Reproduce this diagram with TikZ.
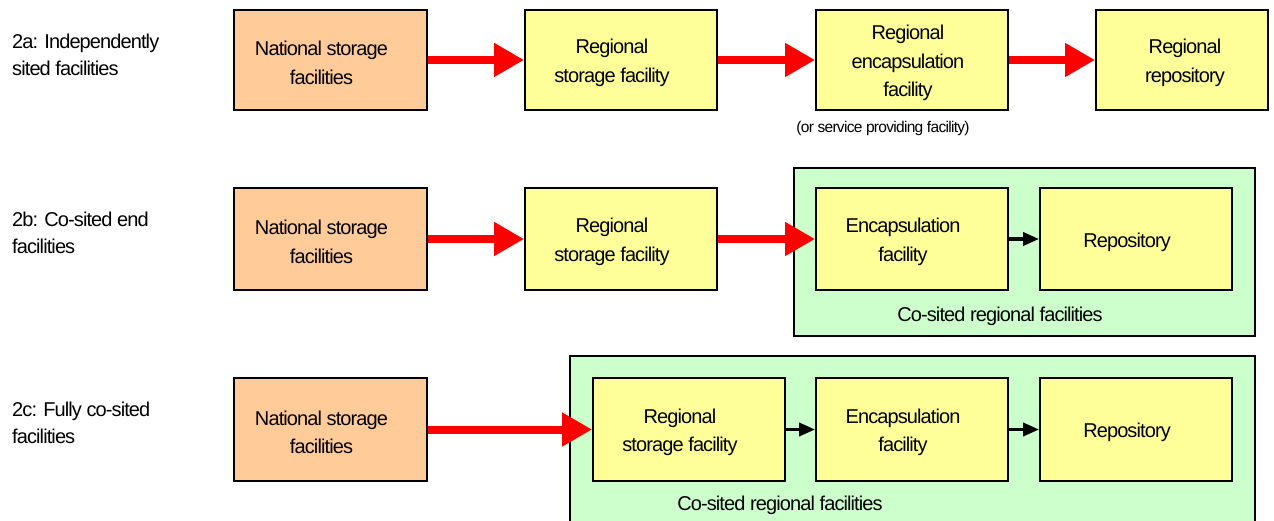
\documentclass[tikz,border=0pt]{standalone}
\usepackage{fontspec}
\setmainfont{Liberation Sans}[LetterSpace=-4.5]
\usetikzlibrary{arrows.meta}
\definecolor{orangefill}{HTML}{FFCC99}
\definecolor{yellowfill}{HTML}{FFFF99}
\definecolor{greenfill}{HTML}{CCFFCC}
\tikzset{
  box/.style={draw=black, line width=1.8pt, inner sep=0pt},
  natbox/.style={box, fill=orangefill, minimum width=193pt},
  ybox/.style={box, fill=yellowfill, minimum width=192pt},
  txt/.style={align=center, inner sep=0pt, font=\fontsize{20}{28.5}\selectfont},
  gbox/.style={draw=black, line width=1.5pt, fill=greenfill, inner sep=0pt},
  glabel/.style={inner sep=0pt, anchor=base, font=\fontsize{20}{28.5}\selectfont},
  redarrow/.style={draw=red, line width=8pt, -{Triangle[length=30pt,width=32pt]}},
  blackarrow/.style={draw=black, line width=3.5pt, -{Triangle[length=16pt,width=13pt]}},
  rowlabel/.style={anchor=west, align=left, inner sep=0pt, font=\fontsize{20}{27}\selectfont},
  note/.style={inner sep=0pt, font=\fontsize{15.5}{18}\selectfont},
}
\newcommand{\boxtext}[3][-9]{\node[txt] (#2t) at ([shift={(#1,3)}]#2.center) {#3};}
\begin{document}
\begin{tikzpicture}[x=1pt,y=-1pt]
\useasboundingbox (0,0) rectangle (1274,521);
% Row 2a
\node[rowlabel] (la) at (12,55) {2a: Independently\\sited facilities};
\node[natbox, minimum height=100pt] (na) at (330.5,60) {};
\boxtext{na}{National storage\\facilities}
\node[ybox, minimum height=100pt] (rsa) at (621,60) {};
\boxtext{rsa}{Regional\\storage facility}
\node[ybox, minimum height=100pt] (rea) at (912,60) {};
\boxtext[-4]{rea}{Regional\\encapsulation\\facility}
\node[ybox, minimum height=100pt, minimum width=172pt] (rra) at (1182,60) {};
\boxtext[3]{rra}{Regional\\repository}
\node[note] (nt) at (883,128) {(or service providing facility)};
\draw[redarrow] (na.east) -- (rsa.west);
\draw[redarrow] (rsa.east) -- (rea.west);
\draw[redarrow] (rea.east) -- (rra.west);
% Row 2b
\node[rowlabel] (lb) at (12,233) {2b: Co-sited end\\facilities};
\node[gbox, minimum width=461pt, minimum height=168pt] (gb) at (1024.5,252) {};
\node[glabel] (gbl) at (1000,321) {Co-sited regional facilities};
\node[natbox, minimum height=102pt] (nb) at (330.5,239) {};
\boxtext{nb}{National storage\\facilities}
\node[ybox, minimum height=102pt] (rsb) at (621,239) {};
\boxtext{rsb}{Regional\\storage facility}
\node[ybox, minimum height=102pt] (eb) at (912,239) {};
\boxtext{eb}{Encapsulation\\facility}
\node[ybox, minimum height=102pt] (rb) at (1136,239) {};
\boxtext{rb}{Repository}
\draw[redarrow] (nb.east) -- (rsb.west);
\draw[redarrow] (rsb.east) -- (eb.west);
\draw[blackarrow] (eb.east) -- (rb.west);
% Row 2c
\node[rowlabel] (lc) at (12,423) {2c: Fully co-sited\\facilities};
\node[gbox, minimum width=685pt, minimum height=166pt] (gc) at (912.5,439) {};
\node[glabel] (gcl) at (780,510) {Co-sited regional facilities};
\node[natbox, minimum height=103pt] (nc) at (330.5,429.5) {};
\boxtext{nc}{National storage\\facilities}
\node[ybox, minimum height=103pt] (rsc) at (689,429.5) {};
\boxtext{rsc}{Regional\\storage facility}
\node[ybox, minimum height=103pt] (ec) at (912,429.5) {};
\boxtext{ec}{Encapsulation\\facility}
\node[ybox, minimum height=103pt] (rc) at (1136,429.5) {};
\boxtext{rc}{Repository}
\draw[redarrow] (nc.east) -- (rsc.west);
\draw[blackarrow] (rsc.east) -- (ec.west);
\draw[blackarrow] (ec.east) -- (rc.west);
\end{tikzpicture}
\end{document}
